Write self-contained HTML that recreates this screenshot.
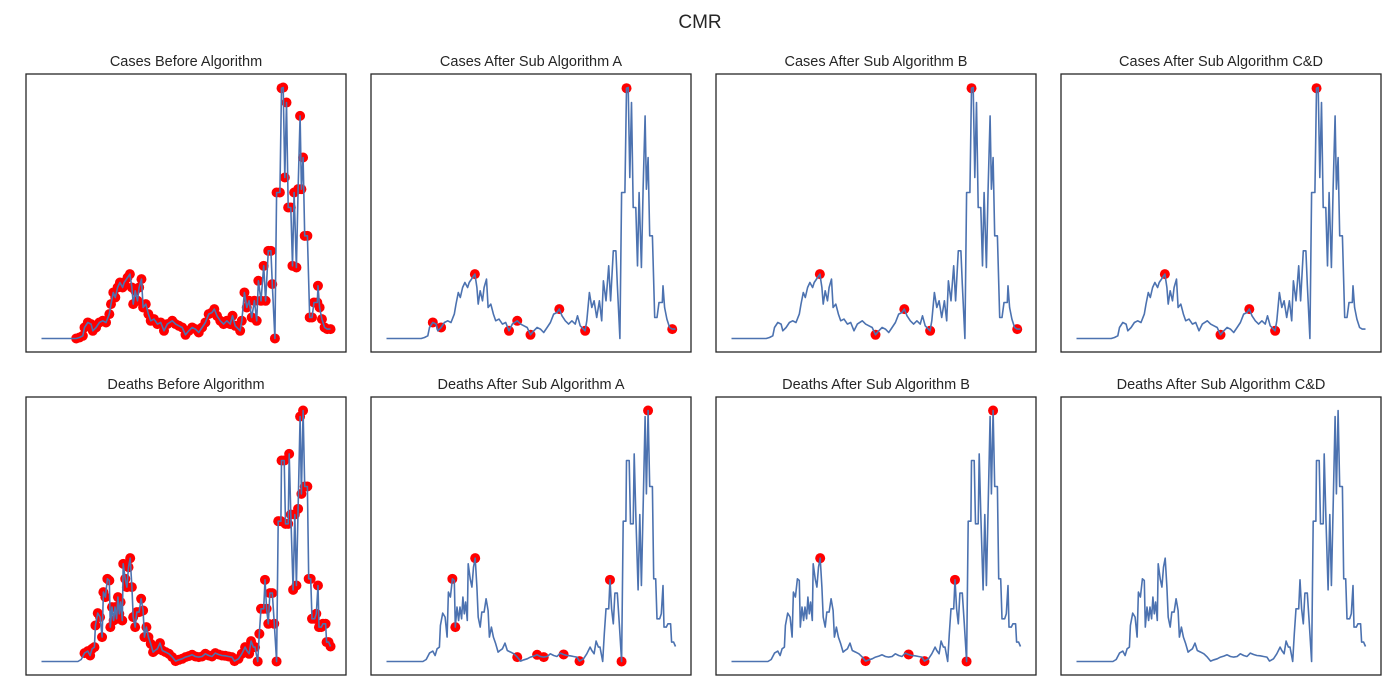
<!DOCTYPE html>
<html><head><meta charset="utf-8"><style>
body{margin:0;background:#fff;}
svg{display:block;font-family:"Liberation Sans","DejaVu Sans",sans-serif;}
</style></head><body>
<svg id="fig" width="1400" height="700" viewBox="0 0 1400 700">
<rect width="1400" height="700" fill="#fff"/>
<text x="700" y="28" text-anchor="middle" font-size="19" fill="#262626">CMR</text>
</svg>
<script>
const casesDays=[0,105,115,125,130,140,150,155,165,175,185,195,205,210,217,223,230,237,245,250,260,267,273,277,283,290,295,302,307,315,323,330,340,350,360,370,380,395,405,415,425,435,445,455,465,475,485,495,505,515,522,530,540,550,560,570,577,585,600,605,613,620,627,635,643,650,655,663,671,677,685,693,697,705,710,720,725,730,735,740,745,753,758,763,770,775,781,785,790,795,803,810,817,823,833,835,840,847,855,863,873];
const casesVals=[0,0,3,8,33,48,43,23,33,48,53,48,73,103,138,123,153,168,153,168,183,193,153,103,143,113,153,178,93,103,73,53,58,43,48,23,43,53,43,38,33,11,23,33,28,18,33,48,73,78,88,68,53,43,53,43,68,38,23,53,138,93,113,63,113,53,173,113,218,113,263,263,163,0,438,438,751,753,483,708,393,393,218,438,213,448,668,448,543,308,308,63,63,108,108,158,93,58,33,28,28];
const deathsDays=[0,110,120,130,140,147,153,160,163,170,177,183,187,193,199,205,208,213,218,222,227,231,235,239,244,247,253,258,263,268,273,277,283,288,295,301,307,311,317,323,330,337,343,350,358,365,375,385,395,405,415,425,435,445,455,465,475,485,495,505,515,525,535,545,555,565,575,583,595,605,615,620,627,633,640,645,653,658,663,671,675,680,685,690,697,703,710,715,723,725,733,737,745,748,753,760,765,770,775,781,785,790,795,803,807,813,817,825,830,835,838,845,850,858,861,867,873];
const deathsVals=[0,0,6,25,31,18,38,43,108,145,133,73,208,193,248,243,103,163,123,163,128,193,143,178,123,293,248,223,283,310,223,133,103,148,148,188,153,73,103,73,53,28,33,38,55,33,28,23,13,1,5,8,13,16,20,15,13,15,23,18,15,25,21,18,17,15,13,1,8,23,43,33,23,61,43,43,0,83,158,158,245,158,113,205,205,113,0,421,421,603,603,413,413,623,441,215,441,228,458,735,503,753,525,525,248,248,128,128,143,228,103,103,113,113,58,58,45];
const casesBeforeFrom=105;
const deathsBeforeFrom=125;
const casesMarksA=[140,162,268,370,395,435,522,600,725,860];
const casesMarksB=[267,435,525,600,726,864];
const casesMarksCD=[267,435,525,600,726];
const deathsMarksA=[199,208,268,399,453,477,531,585,675,710,790];
const deathsMarksB=[268,402,531,588,675,710,790];
const deathsMarksCD=[];
const titles=[["Cases Before Algorithm","Cases After Sub Algorithm A","Cases After Sub Algorithm B","Cases After Sub Algorithm C&D"],["Deaths Before Algorithm","Deaths After Sub Algorithm A","Deaths After Sub Algorithm B","Deaths After Sub Algorithm C&D"]];

const NS="http://www.w3.org/2000/svg";
const svg=document.getElementById('fig');
const colX=[26,371,716,1061], rowY=[74,397], W=320, H=278;
function mk(tag,attrs,parent){const e=document.createElementNS(NS,tag);for(const k in attrs)e.setAttribute(k,attrs[k]);parent.appendChild(e);return e;}
function nearest(days,d){let b=0;for(let i=1;i<days.length;i++)if(Math.abs(days[i]-d)<Math.abs(days[b]-d))b=i;return b;}

const series=[[casesDays,casesVals,casesBeforeFrom,[casesMarksA,casesMarksB,casesMarksCD],'cases'],[deathsDays,deathsVals,deathsBeforeFrom,[deathsMarksA,deathsMarksB,deathsMarksCD],'deaths']];
series.forEach((s,r)=>{
  const [days,vals,from,marks,nm]=s;
  const dmin=Math.min(...days),dmax=Math.max(...days),vmin=Math.min(...vals),vmax=Math.max(...vals);
  const dx=(dmax-dmin)*0.05,dy=(vmax-vmin)*0.05;
  for(let c=0;c<4;c++){
    const x0=colX[c],y0=rowY[r];
    const sx=d=>x0+1+(d-(dmin-dx))/((dmax+dx)-(dmin-dx))*(W-2);
    const sy=v=>y0+H-1-(v-(vmin-dy))/((vmax+dy)-(vmin-dy))*(H-2);
    const g=mk('g',{},svg);
    
    
    const t=mk('text',{x:x0+W/2,y:y0-8,'text-anchor':'middle','font-size':14.5,fill:'#262626'},g);
    
    
    t.textContent=titles[r][c];
    let idx=[];
    if(c===0){days.forEach((d,i)=>{if(d>=from)idx.push(i);});}
    else idx=marks[c-1].map(d=>nearest(days,d));
    idx.forEach(i=>{
      const p=mk('circle',{cx:sx(days[i]),cy:sy(vals[i]),r:5,fill:'#ff0000'},g);
      
      
    });
    const pts=days.map((d,i)=>sx(d).toFixed(1)+','+sy(vals[i]).toFixed(1)).join(' ');
    const l=mk('polyline',{points:pts,fill:'none',stroke:'#4c72b0','stroke-width':1.6,'stroke-linejoin':'round'},g);
    
    
    const f=mk('rect',{x:x0,y:y0,width:W,height:H,fill:'none',stroke:'#262626','stroke-width':1.3},g);
    
    
  }
});
</script>
</body></html>
